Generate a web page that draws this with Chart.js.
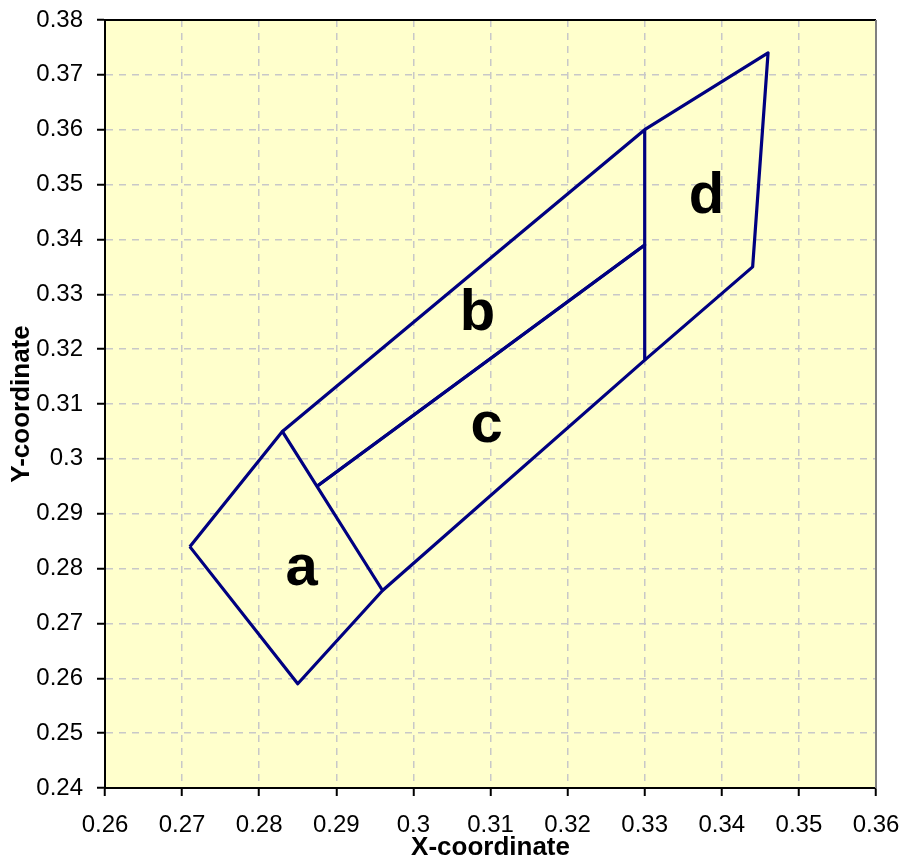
<!DOCTYPE html>
<html>
<head>
<meta charset="utf-8">
<script src="https://cdn.jsdelivr.net/npm/chart.js@4/dist/chart.umd.min.js"></script>
<style>
  html, body { margin: 0; padding: 0; background: #fff; }
  #wrap { width: 904px; height: 859px; }
</style>
</head>
<body>
<div id="wrap"><canvas id="chart" width="904" height="859"></canvas></div>
<script>
// region outlines (x, y)
const regionA_x = [0.271, 0.283, 0.296, 0.285, 0.271];
const regionA_y = [0.284, 0.305, 0.276, 0.259, 0.284];
const regionB_x = [0.283, 0.330, 0.330, 0.2875];
const regionB_y = [0.305, 0.360, 0.339, 0.295];
const regionC_x = [0.2875, 0.330, 0.330, 0.296];
const regionC_y = [0.295, 0.339, 0.318, 0.276];
const regionD_x = [0.330, 0.346, 0.344, 0.330];
const regionD_y = [0.360, 0.374, 0.335, 0.318];

// region names and where they sit
const regionNames = ["a", "b", "c", "d"];
const nameX = [0.2855, 0.3083, 0.3095, 0.3380];
const nameY = [0.2770, 0.3235, 0.3031, 0.3448];

const xTicks = [0.26, 0.27, 0.28, 0.29, 0.3, 0.31, 0.32, 0.33, 0.34, 0.35, 0.36];
const yTicks = [0.24, 0.25, 0.26, 0.27, 0.28, 0.29, 0.3, 0.31, 0.32, 0.33, 0.34, 0.35, 0.36, 0.37, 0.38];

const toPoints = (xs, ys) => xs.map((x, i) => ({ x: x, y: ys[i] }));
const outlines = [
  toPoints(regionA_x, regionA_y),
  toPoints(regionB_x, regionB_y),
  toPoints(regionC_x, regionC_y),
  toPoints(regionD_x, regionD_y)
];

const FONT = "'Liberation Sans', Arial, Helvetica, sans-serif";

const plotBg = {
  id: "plotBg",
  beforeDraw(chart) {
    const { ctx, chartArea: a } = chart;
    ctx.save();
    ctx.fillStyle = "#FFFFCC";
    ctx.fillRect(a.left, a.top, a.right - a.left, a.bottom - a.top);
    ctx.restore();
  },
  afterDraw(chart) {
    const { ctx, chartArea: a } = chart;
    ctx.save();
    ctx.lineWidth = 2;
    ctx.strokeStyle = "#000";
    ctx.beginPath();
    ctx.moveTo(a.left, a.top);
    ctx.lineTo(a.right, a.top);
    ctx.stroke();
    ctx.strokeStyle = "#808080";
    ctx.beginPath();
    ctx.moveTo(a.right, a.top);
    ctx.lineTo(a.right, a.bottom);
    ctx.stroke();
    ctx.restore();
  }
};

const regionLabels = {
  id: "regionLabels",
  afterDatasetsDraw(chart) {
    const { ctx, scales } = chart;
    ctx.save();
    ctx.fillStyle = "#000";
    ctx.font = "bold 58px " + FONT;
    ctx.textAlign = "center";
    ctx.textBaseline = "alphabetic";
    regionNames.forEach((name, i) => {
      ctx.fillText(name, scales.x.getPixelForValue(nameX[i]), scales.y.getPixelForValue(nameY[i]));
    });
    ctx.restore();
  }
};

new Chart(document.getElementById("chart"), {
  type: "scatter",
  data: {
    datasets: outlines.map((pts, i) => ({
      label: regionNames[i],
      data: pts,
      showLine: true,
      borderColor: "#000080",
      borderWidth: 3.2,
      borderJoinStyle: "round",
      pointRadius: 0,
      fill: false,
      tension: 0
    }))
  },
  options: {
    responsive: false,
    animation: false,
    layout: { padding: { top: 20, right: 28, left: 0, bottom: 0 } },
    plugins: {
      legend: { display: false },
      tooltip: { enabled: false }
    },
    scales: {
      x: {
        type: "linear",
        min: 0.26,
        max: 0.36,
        afterBuildTicks: s => { s.ticks = xTicks.map(v => ({ value: v })); },
        afterFit: s => { s.height = 71; s.paddingLeft = 0; s.paddingRight = 0; },
        ticks: {
          color: "#000",
          font: { family: FONT, size: 24 },
          padding: 15,
          maxRotation: 0,
          autoSkip: false,
          callback: v => String(+v.toFixed(2))
        },
        grid: {
          color: "#c8c8c8",
          lineWidth: 1.5,
          tickColor: "#000",
          tickLength: 8,
          tickWidth: 2,
          tickBorderDash: []
        },
        border: { display: true, color: "#000", width: 2, dash: [7, 6] },
        title: {
          display: true,
          text: "X-coordinate",
          color: "#000",
          font: { family: FONT, size: 26, weight: "bold", lineHeight: 0.85 },
          padding: { top: 0, bottom: 0 }
        }
      },
      y: {
        type: "linear",
        min: 0.24,
        max: 0.38,
        afterBuildTicks: s => { s.ticks = yTicks.map(v => ({ value: v })); },
        afterFit: s => { s.width = 105; s.paddingTop = 0; s.paddingBottom = 0; },
        ticks: {
          color: "#000",
          font: { family: FONT, size: 24 },
          padding: 14,
          autoSkip: false,
          callback: v => String(+v.toFixed(2))
        },
        grid: {
          color: "#c8c8c8",
          lineWidth: 1.5,
          tickColor: "#000",
          tickLength: 8,
          tickWidth: 2,
          tickBorderDash: []
        },
        border: { display: true, color: "#000", width: 2, dash: [7, 6] },
        title: {
          display: true,
          text: "Y-coordinate",
          color: "#000",
          font: { family: FONT, size: 26, weight: "bold", lineHeight: 0.85 },
          padding: { top: 11, bottom: 0 }
        }
      }
    }
  },
  plugins: [plotBg, regionLabels]
});
</script>
</body>
</html>
